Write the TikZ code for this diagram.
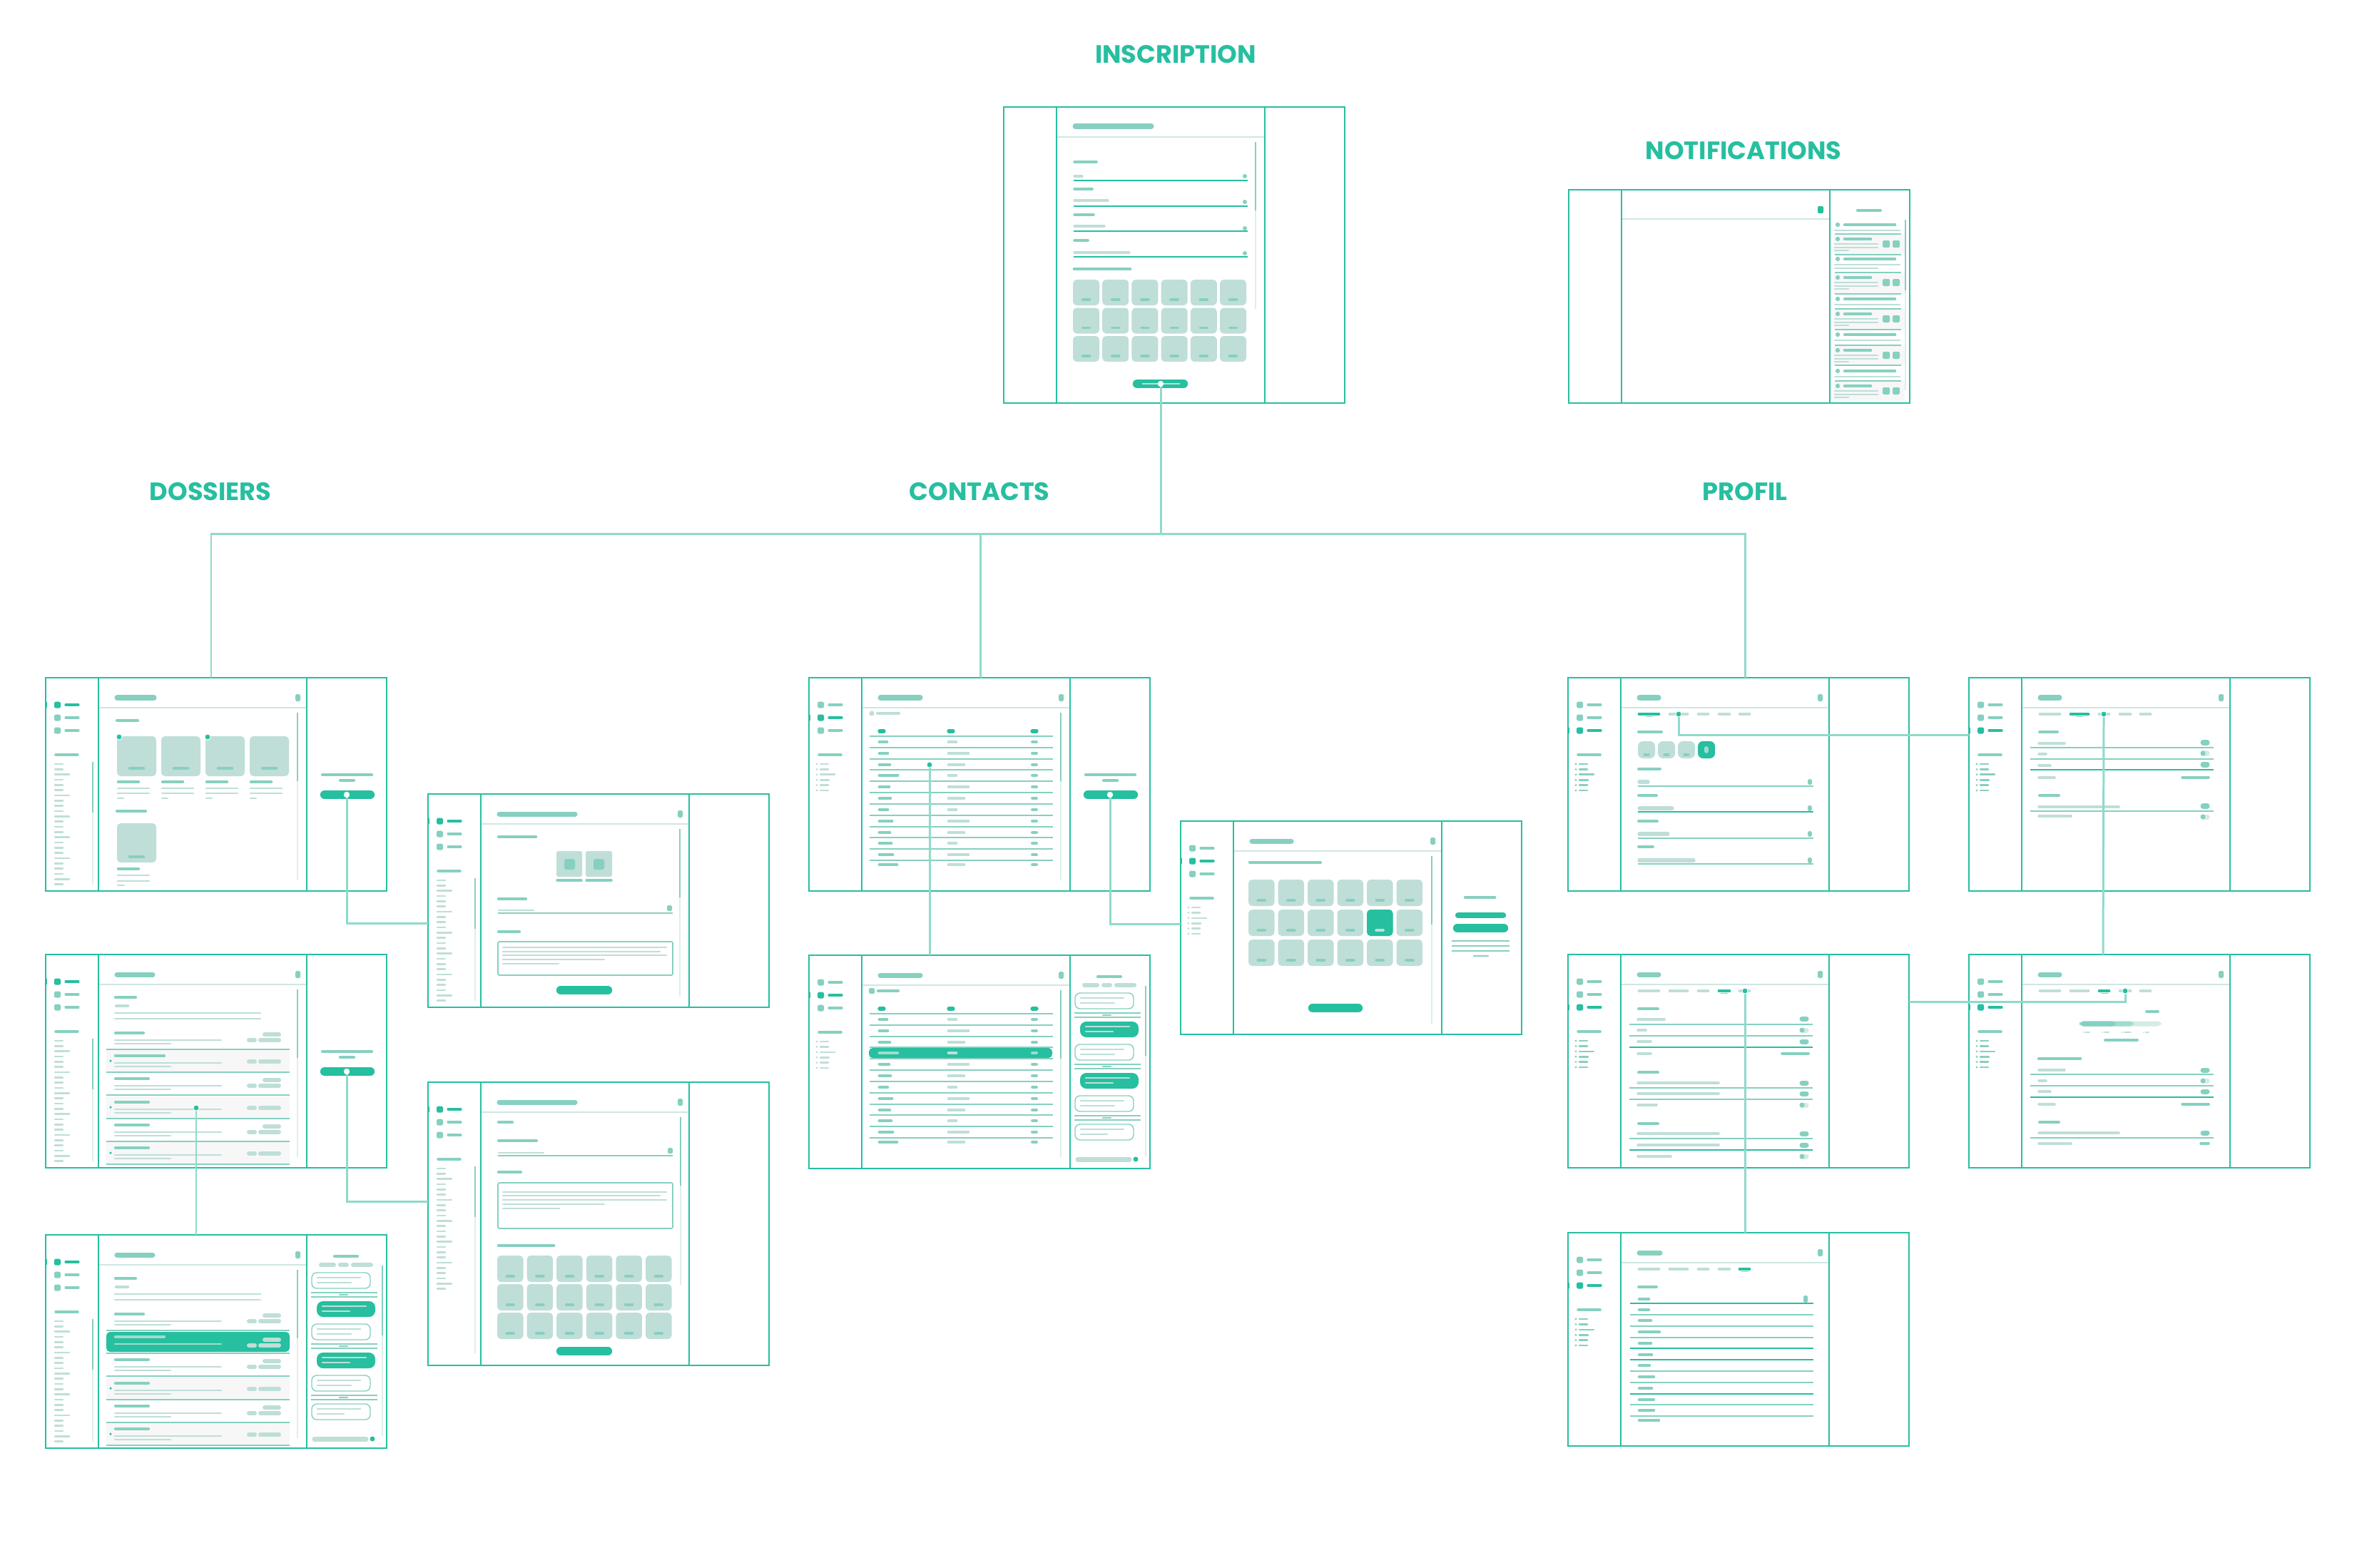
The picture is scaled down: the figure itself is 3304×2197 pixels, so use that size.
\documentclass[tikz,border=0pt]{standalone}
\usepackage{fontspec}
\newfontfamily\headfont{Poppins}
\definecolor{cStrong}{HTML}{26BFA0}
\definecolor{cMid}{HTML}{86D0C0}
\definecolor{cGray}{HTML}{BFDED8}
\definecolor{cTrack}{HTML}{DDEFEB}
\definecolor{cRow}{HTML}{F7F7F7}
\definecolor{cHead}{HTML}{CFE7E2}
\definecolor{cConn}{HTML}{8EDBCA}
\definecolor{cSoft}{HTML}{9FDCCE}
\definecolor{cPale}{HTML}{D5EBE6}
\tikzset{
 wfrm/.style={draw=cStrong, line width=0.8pt},
 whbar/.style={draw=cMid, line width=2pt, line cap=round},
 wmbar/.style={draw=cMid, line width=1pt, line cap=round},
 wgbar/.style={draw=cGray, line width=0.6pt, line cap=round},
 wtile/.style={fill=cGray, rounded corners=1.5pt},
 wconn/.style={draw=cConn, line width=0.85pt},
 whdr/.style={draw=cHead, line width=0.7pt},
 wsep/.style={draw=cMid, line width=0.5pt},
 wdot/.style={fill=cStrong, draw=white, line width=0.25pt},
 whead/.style={text=cStrong, font=\headfont\bfseries\fontsize{10}{12}\selectfont, inner sep=0pt},
}
% ---------- components ----------
\newcommand{\wfBox}[1]{%
  \fill[white] (0,0) rectangle (478,#1);
  \draw[wfrm] (0,0) rectangle (478,#1);
  \draw[wfrm] (74,0) -- (74,#1);
  \draw[wfrm] (366,0) -- (366,#1);}
\newcommand{\wfHead}[1]{%
  \draw[whdr] (75,42) -- (365,42);
  \draw[whbar] (100,28) -- (#1,28);
  \fill[cMid, rounded corners=0.5pt] (350,23) rectangle (357,33);}
\newcommand{\wfSide}[4]{%
  \foreach \yy/\cc in {38/#1,56/#2,74/#3}{%
    \fill[\cc, rounded corners=0.5pt] (12,\yy-4.5) rectangle (21,\yy+4.5);
    \draw[\cc, line width=0.9pt, line cap=round] (28,\yy) -- (46,\yy);}
  \draw[cStrong, line width=0.7pt] (1,#4-4) -- (1,#4+4);
  \draw[wmbar] (14,108) -- (45,108);}
\newcommand{\wfSideLong}[1]{%
  \foreach \i in {0,...,23}{%
    \pgfmathsetmacro{\ww}{mod(\i,4)==2 ? 33 : 24}%
    \draw[wgbar, line width=0.75pt] (13,121+7.33*\i) -- (\ww,121+7.33*\i);}
  \draw[cTrack, line width=0.6pt] (66,118) -- (66,#1);
  \draw[cMid, line width=0.6pt] (66,118) -- (66,189);}
\newcommand{\wfSideShort}[1]{%
  \foreach \i/\ww in {0/27,1/27,2/36,3/28,4/27,5/27}{%
    \fill[#1] (11,121+7.4*\i) circle[radius=0.45pt];
    \draw[#1, line width=0.75pt, line cap=round] (16,121+7.4*\i) -- (\ww,121+7.4*\i);}}
\newcommand{\wfScroll}[3]{%
  \draw[cTrack, line width=0.6pt] (#1,49) -- (#1,#2);
  \draw[cMid, line width=0.6pt] (#1,49) -- (#1,#3);}
\newcommand{\wfBtn}[3]{%
  \draw[cStrong, line width=3.5pt, line cap=round] (#1,#3) -- (#2,#3);}
\newcommand{\wfBtnPanel}[1]{%
  \draw[wmbar, line width=1.2pt] (388,136) -- (457,136);
  \draw[wmbar, line width=1.2pt] (413,144) -- (432,144);
  \wfBtn{391}{455}{164}
  \coordinate (#1) at (422,164);}
\newcommand{\wfOCard}[3]{%
  \draw[cMid, line width=0.4pt, rounded corners=2pt] (373,#1) rectangle (455,#2);
  \draw[wgbar, line width=0.8pt] (381,#1+7) -- (441,#1+7);
  \draw[wgbar, line width=0.8pt] (381,#1+14) -- (#3,#1+14);}
\newcommand{\wfFCard}[1]{%
  \fill[cStrong, rounded corners=2.5pt] (380,#1) rectangle (462,#1+22);
  \draw[cGray, line width=0.8pt, line cap=round] (388,#1+7) -- (449,#1+7);
  \draw[cGray, line width=0.8pt, line cap=round] (388,#1+14) -- (426,#1+14);}
\newcommand{\wfDiv}[1]{%
  \draw[wsep, line width=0.4pt] (372,#1) -- (465,#1);
  \draw[wsep, line width=0.4pt] (372,#1+6) -- (465,#1+6);
  \draw[wmbar, line width=0.7pt] (412,#1+3) -- (423,#1+3);}
\newcommand{\wfCards}{%
  \draw[wmbar, line width=1.2pt] (405,30) -- (437,30);
  \draw[cGray, line width=1.7pt, line cap=round] (386,42) -- (404,42);
  \draw[cGray, line width=1.7pt, line cap=round] (413,42) -- (422,42);
  \draw[cGray, line width=1.7pt, line cap=round] (431,42) -- (456,42);
  \wfOCard{53}{75}{428}
  \wfDiv{81}
  \wfFCard{93}
  \wfOCard{125}{147}{428}
  \wfDiv{153}
  \wfFCard{165}
  \wfOCard{197}{219}{428}
  \wfDiv{225}
  \wfOCard{237}{259}{418}
  \draw[cGray, line width=2pt, line cap=round] (377,286) -- (449,286);
  \fill[cStrong] (458,286) circle[radius=1pt];
  \draw[cTrack, line width=0.5pt] (472,43) -- (472,282);
  \draw[cMid, line width=0.5pt] (472,43) -- (472,141);}
\newcommand{\wfChips}[1]{%
  \draw[cGray, line width=1.7pt, line cap=round] (285,#1) -- (293,#1);
  \draw[cGray, line width=1.7pt, line cap=round] (301,#1) -- (327,#1);}
\newcommand{\wfRowW}[2]{%
  \draw[wmbar, line width=1.2pt] (98,#1+9) -- (#2,#1+9);
  \draw[wgbar] (97,#1+19) -- (246,#1+19);
  \draw[wgbar] (97,#1+24) -- (175,#1+24);
  \draw[cGray, line width=1.7pt, line cap=round] (307,#1+11) -- (327,#1+11);
  \wfChips{#1+19}
  \draw[wsep] (85,#1+32) -- (342,#1+32);}
\newcommand{\wfRowG}[2]{%
  \fill[cRow] (85,#1+0.8) rectangle (342,#1+31.2);
  \draw[wmbar, line width=1.2pt] (98,#1+9) -- (#2,#1+9);
  \fill[cStrong] (91,#1+16) circle[radius=0.5pt];
  \draw[wgbar] (97,#1+19) -- (246,#1+19);
  \draw[wgbar] (97,#1+24) -- (175,#1+24);
  \wfChips{#1+17}
  \draw[wsep] (85,#1+32) -- (342,#1+32);}
\newcommand{\wfRowH}[2]{%
  \fill[cStrong, rounded corners=1.5pt] (85,#1+2) rectangle (342,#1+30);
  \draw[cSoft, line width=1.2pt, line cap=round] (98,#1+9) -- (#2,#1+9);
  \draw[cSoft, line width=0.6pt, line cap=round] (97,#1+19) -- (246,#1+19);
  \draw[cGray, line width=1.7pt, line cap=round] (307,#1+13) -- (327,#1+13);
  \wfChips{#1+21}
  \draw[wsep] (85,#1+32) -- (342,#1+32);}
\newcommand{\wfTable}[1]{%
  \foreach \xx in {99,196,313}{\draw[cStrong, line width=1.5pt, line cap=round] (\xx,75) -- (\xx+6,75);}
  \draw[wsep] (85,82) -- (342,82);
  \foreach \tn/\yy/\wa/\wb in {1/90/14/14,2/106/15/31,3/122/18/25,4/137/29/14,5/153/17/31,6/169/19/25,7/185/15/14,8/201/21/31,9/217/18/25,10/232/20/14,11/248/22/31,12/262/28/25}{%
    \ifnum\tn=#1
      \fill[cStrong, rounded corners=1.5pt] (84,\yy-7) rectangle (341,\yy+7);
      \draw[cSoft, line width=1.4pt, line cap=round] (99,\yy) -- (95+\wa,\yy);
      \draw[cGray, line width=1.4pt, line cap=round] (196,\yy) -- (192+\wb,\yy);
      \draw[cSoft, line width=1.1pt, line cap=round] (313,\yy) -- (319,\yy);
    \else
      \draw[cMid, line width=1.4pt, line cap=round] (99,\yy) -- (95+\wa,\yy);
      \draw[cGray, line width=1.4pt, line cap=round] (196,\yy) -- (192+\wb,\yy);
      \draw[cMid, line width=1.1pt, line cap=round] (313,\yy) -- (319,\yy);
    \fi}
  \foreach \yy in {98,114,129,145,161,177,193,209,224,240,256}{\draw[wsep] (85,\yy) -- (342,\yy);}}
\newcommand{\wfGrid}[6]{%
  \foreach \cc in {0,...,5}{\foreach \rr in {0,1,2}{%
    \fill[wtile] ({#1+#5*\cc},{#2+#6*\rr}) rectangle ({#1+#5*\cc+#3},{#2+#6*\rr+#4});
    \draw[wmbar] ({#1+#5*\cc+#3/2-5},{#2+#6*\rr+#4-8}) -- ({#1+#5*\cc+#3/2+5},{#2+#6*\rr+#4-8});}}}
\newcommand{\wfTabs}[1]{%
  \foreach \ta/\tb/\tn in {98/129/1,141/169/2,181/198/3,210/228/4,239/256/5}{%
    \ifnum\tn=#1
      \draw[cStrong, line width=1.1pt, line cap=round] (\ta+1.5,51) -- (\tb-1.5,51);
      \draw[cMid, line width=0.5pt] ({(\ta+\tb)/2-5},54.5) -- ({(\ta+\tb)/2+5},54.5);
    \else
      \draw[cGray, line width=1.1pt, line cap=round] (\ta+1.5,51) -- (\tb-1.5,51);
    \fi}}
\newcommand{\wfTog}[2]{%
  \ifnum#2=1
    \draw[cMid, line width=2pt, line cap=round] (328,#1) -- (334,#1);
  \else
    \draw[cPale, line width=2pt, line cap=round] (328,#1) -- (334,#1);
    \fill[cMid] (328,#1) circle[radius=1pt];
  \fi}
\newcommand{\wfPH}[2]{\draw[cGray, line width=1pt, line cap=round] (98,#1) -- (#2,#1);}
\newcommand{\wfUL}[2]{\draw[#2, line width=0.7pt] (86,#1) -- (343,#1);}
\newcommand{\wfLab}[2]{\draw[wmbar, line width=1.1pt] (99,#1) -- (#2,#1);}

\begin{document}
\begin{tikzpicture}[x=0.01cm,y=-0.01cm]
\fill[white] (0,0) rectangle (3304,2197);
\useasboundingbox (0,0) rectangle (3304,2197);

% ---------- headings ----------
\node[whead] (hIns) at (1648,76) {INSCRIPTION};
\node[whead] (hNot) at (2444,211) {NOTIFICATIONS};
\node[whead] (hDos) at (295,689) {DOSSIERS};
\node[whead] (hCon) at (1373,689) {CONTACTS};
\node[whead] (hPro) at (2446,689) {PROFIL};

% ---------- INSCRIPTION ----------
\begin{scope}[shift={(1407,150)}]
  \wfBox{415}
  \draw[whdr] (75,42) -- (365,42);
  \draw[whbar] (100,27) -- (207,27);
  \wfScroll{353}{283}{145}
  \foreach \la/\ly/\pe/\py/\dy/\uy in {130/77/110/97/97/103, 124/115/146/131/133/139, 126/151/141/167/170/174, 118/187/176/204/205/210}{%
    \draw[wmbar] (99,\ly) -- (\la,\ly);
    \draw[wgbar, line width=0.9pt] (99,\py) -- (\pe,\py);
    \fill[cMid] (338,\dy) circle[radius=0.85pt];
    \draw[cStrong, line width=0.6pt] (98,\uy) -- (342,\uy);}
  \draw[wmbar, line width=1.4pt] (99,227) -- (177,227);
  \wfGrid{97}{242}{37}{36}{41.2}{39.5}
  \wfBtn{187}{252}{388}
  \draw[cGray, line width=0.6pt] (194,388) -- (247,388);
  \coordinate (insKnob) at (220,388);
\end{scope}

% ---------- NOTIFICATIONS ----------
\begin{scope}[shift={(2199,266)}]
  \wfBox{299}
  \draw[whdr] (75,41) -- (365,41);
  \fill[cStrong, rounded corners=0.6pt] (349,23) rectangle (357,33);
  \draw[wmbar, line width=1.2pt] (405,29) -- (437,29);
  \foreach \yd/\two in {49/0,97/1,153/0,203/0,254/0}{%
    \fill[cMid] (377,\yd) circle[radius=0.9pt];
    \draw[wmbar, line width=1.3pt] (387,\yd) -- (457,\yd);
    \draw[wgbar, line width=0.7pt] (373,\yd+8) -- (464,\yd+8);
    \ifnum\two=1 \draw[wgbar, line width=0.7pt] (373,\yd+13) -- (433,\yd+13);\fi}
  \foreach \yt/\yb in {63/91,117/146,168/196,219/246,269/297}{%
    \fill[cRow] (371,\yt) rectangle (471,\yb);
    \fill[cMid] (377,\yt+6) circle[radius=0.9pt];
    \draw[wmbar, line width=1.3pt] (387,\yt+6) -- (423,\yt+6);
    \draw[wgbar, line width=0.7pt] (373,\yt+13) -- (433,\yt+13);
    \draw[wgbar, line width=0.7pt] (373,\yt+18) -- (433,\yt+18);
    \draw[wgbar, line width=0.7pt] (373,\yt+22) -- (392,\yt+22);
    \fill[cMid, rounded corners=0.6pt] (440,\yt+8) rectangle (450,\yt+18);
    \fill[cMid, rounded corners=0.6pt] (454,\yt+8) rectangle (464,\yt+18);}
  \foreach \ys in {62,91,116,146,167,196,218,246,268}{\draw[wsep] (373,\ys) -- (466,\ys);}
  \draw[cTrack, line width=0.5pt] (472,42) -- (472,281);
  \draw[cMid, line width=0.5pt] (472,42) -- (472,141);
\end{scope}

% ---------- DOSSIERS A ----------
\begin{scope}[shift={(64,950)}]
  \wfBox{299}
  \wfSide{cStrong}{cMid}{cMid}{38}
  \wfSideLong{290}
  \wfHead{152}
  \draw[wmbar, line width=1.2pt] (100,60) -- (129,60);
  \foreach \xc in {100,162,224,286}{%
    \fill[wtile] (\xc,82) rectangle (\xc+55,138);
    \draw[wmbar, line width=1.3pt] (\xc+18,127) -- (\xc+37,127);
    \draw[wmbar, line width=1.3pt] (\xc+2,146) -- (\xc+30,146);
    \draw[wgbar, line width=0.8pt] (\xc+1,155) -- (\xc+45,155);
    \draw[wgbar, line width=0.8pt] (\xc+1,162) -- (\xc+45,162);
    \draw[wgbar, line width=0.8pt] (\xc+1,169) -- (\xc+9,169);}
  \draw[wmbar, line width=1.2pt] (100,187) -- (140,187);
  \fill[wtile] (100,204) rectangle (155,259);
  \draw[wmbar, line width=1.3pt] (118,251) -- (137,251);
  \draw[wmbar, line width=1.3pt] (102,268) -- (130,268);
  \draw[wgbar, line width=0.8pt] (101,277) -- (145,277);
  \draw[wgbar, line width=0.8pt] (101,285) -- (145,285);
  \draw[wgbar, line width=0.8pt] (101,291) -- (110,291);
  \coordinate (dAc1) at (103,83);
  \coordinate (dAc3) at (227,83);
  \wfScroll{353}{284}{145}
  \wfBtnPanel{dAknob}
  \coordinate (dAtop) at (232,0);
\end{scope}

% ---------- DOSSIERS B ----------
\begin{scope}[shift={(64,1338)}]
  \wfBox{299}
  \wfSide{cStrong}{cMid}{cMid}{38}
  \wfSideLong{290}
  \wfHead{150}
  \draw[wmbar, line width=1.2pt] (98,60) -- (126,60);
  \draw[cGray, line width=1.3pt, line cap=round] (99,72) -- (115,72);
  \draw[wgbar] (97,82) -- (301,82);
  \draw[wgbar] (97,90) -- (301,90);
  \wfRowW{101}{137}
  \wfRowG{133}{166}
  \wfRowW{165}{144}
  \wfRowG{198}{144}
  \wfRowW{230}{144}
  \wfRowG{262}{144}
  \coordinate (dBdot) at (211,215);
  \wfScroll{353}{284}{145}
  \wfBtnPanel{dBknob}
\end{scope}

% ---------- DOSSIERS C ----------
\begin{scope}[shift={(64,1731)}]
  \wfBox{299}
  \wfSide{cStrong}{cMid}{cMid}{38}
  \wfSideLong{290}
  \wfHead{150}
  \draw[wmbar, line width=1.2pt] (98,61) -- (126,61);
  \draw[cGray, line width=1.3pt, line cap=round] (99,73) -- (115,73);
  \draw[wgbar] (97,83) -- (301,83);
  \draw[wgbar] (97,91) -- (301,91);
  \wfRowW{102}{137}
  \wfRowH{134}{166}
  \wfRowW{166}{144}
  \wfRowG{199}{144}
  \wfRowW{231}{144}
  \wfRowG{263}{144}
  \wfScroll{353}{285}{145}
  \wfCards
  \coordinate (dCtop) at (211,0);
\end{scope}

% ---------- DOSSIER DETAIL ----------
\begin{scope}[shift={(600,1113)}]
  \wfBox{299}
  \wfSide{cStrong}{cMid}{cMid}{38}
  \wfSideLong{290}
  \wfHead{206}
  \draw[wmbar, line width=1.2pt] (99,60) -- (151,60);
  \fill[cGray, rounded corners=0.8pt] (180,80) rectangle (216,116);
  \fill[cGray, rounded corners=0.8pt] (221,80) rectangle (258,116);
  \fill[cMid, rounded corners=0.8pt] (191,91) rectangle (206,106);
  \fill[cMid, rounded corners=0.8pt] (232,91) rectangle (247,106);
  \draw[wmbar] (181,121) -- (215,121);
  \draw[wmbar] (222,121) -- (257,121);
  \draw[wmbar, line width=1.2pt] (99,147) -- (137,147);
  \draw[wgbar, line width=0.8pt] (99,163) -- (148,163);
  \fill[cMid, rounded corners=0.5pt] (335,156) rectangle (342,164);
  \draw[cMid, line width=0.6pt] (98,167) -- (343,167);
  \draw[wmbar, line width=1.2pt] (99,193) -- (128,193);
  \draw[cMid, line width=0.5pt, rounded corners=0.6pt] (98,207) rectangle (343,254);
  \foreach \yl/\xe in {215/334,221/325,226/334,232/247,238/183}{\draw[wgbar] (105,\yl) -- (\xe,\yl);}
  \wfBtn{186}{252}{275}
  \wfScroll{353}{284}{145}
  \coordinate (detL) at (0,181);
\end{scope}

% ---------- DOSSIER FORM (tall) ----------
\begin{scope}[shift={(600,1517)}]
  \wfBox{397}
  \wfSide{cStrong}{cMid}{cMid}{38}
  \wfSideLong{380}
  \wfHead{206}
  \draw[wmbar, line width=1.2pt] (99,56) -- (118,56);
  \draw[wmbar, line width=1.2pt] (99,82) -- (152,82);
  \draw[wgbar, line width=0.8pt] (99,99) -- (162,99);
  \fill[cMid, rounded corners=0.5pt] (336,92) rectangle (343,100);
  \draw[cMid, line width=0.6pt] (98,103) -- (343,103);
  \draw[wmbar, line width=1.2pt] (99,126) -- (130,126);
  \draw[cMid, line width=0.5pt, rounded corners=0.6pt] (98,141) rectangle (343,205);
  \foreach \yl/\xe in {154/334,159/325,165/334,171/247,177/184}{\draw[wgbar] (105,\yl) -- (\xe,\yl);}
  \draw[wmbar, line width=1.4pt] (99,229) -- (176,229);
  \wfGrid{97}{243}{36.5}{37}{41.6}{40}
  \wfBtn{186}{252}{377}
  \wfScroll{354}{284}{145}
  \coordinate (formL) at (0,167);
\end{scope}

% ---------- CONTACTS A ----------
\begin{scope}[shift={(1134,950)}]
  \wfBox{299}
  \wfSide{cMid}{cStrong}{cMid}{56}
  \wfSideShort{cGray}
  \wfHead{156}
  \fill[cGray] (88,50) circle[radius=1pt];
  \draw[wgbar, line width=1.2pt] (96,50) -- (126,50);
  \wfTable{0}
  \coordinate (cAdot) at (169,122);
  \wfScroll{353}{283}{145}
  \wfBtnPanel{cAknob}
  \coordinate (cAtop) at (240,0);
\end{scope}

% ---------- CONTACTS B ----------
\begin{scope}[shift={(1134,1339)}]
  \wfBox{299}
  \wfSide{cMid}{cStrong}{cMid}{56}
  \wfSideShort{cGray}
  \wfHead{156}
  \fill[cMid, rounded corners=0.5pt] (84,46) rectangle (92,54);
  \draw[wmbar, line width=1.2pt] (97,50) -- (125,50);
  \wfTable{4}
  \wfScroll{353}{283}{145}
  \wfCards
  \coordinate (cBtop) at (169,0);
\end{scope}

% ---------- CONTACTS CALENDAR ----------
\begin{scope}[shift={(1655,1151)}]
  \wfBox{299}
  \wfSide{cMid}{cStrong}{cMid}{56}
  \wfSideShort{cGray}
  \wfHead{155}
  \draw[wmbar, line width=1.2pt] (97,58) -- (196,58);
  \wfGrid{95}{82}{36.5}{37}{41.5}{42}
  \fill[cStrong, rounded corners=1.5pt] (261,124) rectangle (297.5,161);
  \draw[cGray, line width=1pt, line cap=round] (274,153) -- (284,153);
  \wfBtn{185}{249}{262}
  \wfScroll{352}{284}{145}
  \draw[wmbar, line width=1.3pt] (399,107) -- (440,107);
  \draw[cStrong, line width=2.4pt, line cap=round] (389,132) -- (452,132);
  \draw[cStrong, line width=3.5pt, line cap=round] (388,150) -- (453,150);
  \foreach \yl in {168,175,182}{\draw[cMid, line width=0.7pt] (380,\yl) -- (461,\yl);}
  \draw[wmbar, line width=0.8pt] (411,189) -- (431,189);
  \coordinate (calL) at (0,144);
\end{scope}

% ---------- PROFIL A ----------
\begin{scope}[shift={(2198,950)}]
  \wfBox{299}
  \wfSide{cMid}{cMid}{cStrong}{74}
  \wfSideShort{cMid}
  \wfHead{127}
  \wfTabs{1}
  \coordinate (pAdot) at (155,51);
  \draw[wmbar, line width=1.1pt] (99,76) -- (131,76);
  \foreach \xa in {98,126,154}{%
    \fill[cGray, rounded corners=2pt] (\xa,89) rectangle (\xa+24,113);
    \draw[wmbar, line width=0.9pt] (\xa+9,108) -- (\xa+15,108);}
  \fill[cStrong, rounded corners=2pt] (182,89) rectangle (206,113);
  \draw[cSoft, line width=1.6pt, line cap=round] (194,99) -- (194,103);
  \foreach \la/\ly/\pe/\py/\uy/\uc in {129/128/112/146/152/cMid, 124/165/146/183/188/cStrong, 125/201/140/219/225/cMid, 119/237/176/256/261/cMid}{%
    \wfLab{\ly}{\la}
    \draw[cGray, line width=1.5pt, line cap=round] (100,\py) -- (\pe,\py);
    \draw[cMid, line width=1.5pt, line cap=round] (339,\py-1.5) -- (339,\py+1.5);
    \draw[\uc, line width=0.8pt] (98,\uy) -- (344,\uy);}
  \coordinate (pAtop) at (248,0);
\end{scope}

% ---------- PROFIL B ----------
\begin{scope}[shift={(2760,950)}]
  \wfBox{299}
  \wfSide{cMid}{cMid}{cStrong}{74}
  \wfSideShort{cMid}
  \wfHead{127}
  \wfTabs{2}
  \coordinate (pBdot) at (189,51);
  \wfLab{76}{124}
  \wfPH{92}{134} \wfTog{91}{1} \wfUL{98}{cMid}
  \wfPH{107}{108} \wfTog{106}{0} \wfUL{114}{cMid}
  \wfPH{123}{114} \wfTog{122}{1} \wfUL{129}{cStrong}
  \wfPH{140}{120} \draw[wmbar] (299,140) -- (336,140);
  \wfLab{165}{126}
  \wfPH{181}{210} \wfTog{180}{1} \wfUL{187}{cMid}
  \wfPH{194}{143} \wfTog{195}{0}
  \coordinate (pBL) at (0,80);
\end{scope}

% ---------- PROFIL C ----------
\begin{scope}[shift={(2198,1338)}]
  \wfBox{299}
  \wfSide{cMid}{cMid}{cStrong}{74}
  \wfSideShort{cMid}
  \wfHead{127}
  \wfTabs{4}
  \coordinate (pCdot) at (248,51);
  \wfLab{76}{126}
  \wfPH{91}{135} \wfTog{90}{1} \wfUL{98}{cMid}
  \wfPH{106}{109} \wfTog{106}{0} \wfUL{114}{cMid}
  \wfPH{122}{116} \wfTog{122}{1} \wfUL{130}{cStrong}
  \wfPH{139}{116} \draw[wmbar] (300,139) -- (337,139);
  \wfLab{165}{126}
  \wfPH{180}{211} \wfTog{180}{1} \wfUL{187}{cMid}
  \wfPH{195}{211} \wfTog{195}{1} \wfUL{203}{cMid}
  \wfPH{211}{124} \wfTog{211}{0}
  \wfLab{237}{126}
  \wfPH{251}{211} \wfTog{251}{1} \wfUL{258}{cMid}
  \wfPH{267}{211} \wfTog{267}{1} \wfUL{274}{cStrong}
  \wfPH{283}{144} \wfTog{283}{0}
  \coordinate (pCR) at (478,66);
\end{scope}

% ---------- PROFIL D ----------
\begin{scope}[shift={(2760,1338)}]
  \wfBox{299}
  \wfSide{cMid}{cMid}{cStrong}{74}
  \wfSideShort{cMid}
  \wfHead{127}
  \wfTabs{3}
  \coordinate (pDdot) at (219,51);
  \draw[wmbar, line width=1.1pt] (249,80) -- (265,80);
  \fill[cPale, rounded corners=1.8pt] (155,93.5) rectangle (270,100.5);
  \fill[cSoft, rounded corners=1.8pt] (155,93.5) rectangle (231,100.5);
  \fill[cMid, rounded corners=1.8pt] (155,93.5) rectangle (206,100.5);
  \foreach \xa/\xb in {163/169,190/196,218/227,248/252}{%
    \fill[cGray] (\xa-3,109) circle[radius=0.3pt];
    \draw[wgbar, line width=0.5pt] (\xa,109) -- (\xb,109);}
  \draw[wmbar, line width=1.1pt] (191,120) -- (236,120);
  \draw[wmbar, line width=1.3pt] (98,146) -- (156,146);
  \wfPH{162}{134} \wfTog{162}{1} \wfUL{168}{cMid}
  \wfPH{177}{108} \wfTog{177}{0} \wfUL{184}{cMid}
  \wfPH{192}{114} \wfTog{192}{1} \wfUL{200}{cStrong}
  \wfPH{210}{120} \draw[wmbar] (299,210) -- (336,210);
  \wfLab{235}{126}
  \wfPH{250}{210} \wfTog{250}{1} \wfUL{257}{cMid}
  \wfPH{265}{143} \draw[wmbar] (325,265) -- (336,265);
  \coordinate (pDtop) at (188,0);
\end{scope}

% ---------- PROFIL E ----------
\begin{scope}[shift={(2198,1728)}]
  \wfBox{299}
  \wfSide{cMid}{cMid}{cStrong}{74}
  \wfSideShort{cMid}
  \wfHead{129}
  \wfTabs{5}
  \wfLab{76}{124}
  \fill[cMid, rounded corners=0.5pt] (330,88) rectangle (336,98);
  \foreach \yy/\xe/\ly/\lc in {93/113/99/cStrong,108/113/115/cMid,123/116/131/cMid,139/128/147/cMid,155/116/162/cStrong,171/117/178/cStrong,186/114/194/cMid,202/120/210/cMid,218/117/226/cStrong,234/120/241/cMid,249/120/257/cMid}{%
    \draw[cMid, line width=1.3pt, line cap=round] (100,\yy) -- (\xe,\yy);
    \draw[\lc, line width=0.6pt] (87,\ly) -- (344,\ly);}
  \draw[cMid, line width=1.3pt, line cap=round] (100,263) -- (127,263);
  \coordinate (pEtop) at (248,0);
\end{scope}

% ---------- connectors ----------
\coordinate (bus) at (1627,748);
\draw[wconn] (insKnob) -- (insKnob |- bus);
\draw[wconn] (dAtop) |- (cAtop |- bus) -| (pAtop);
\draw[wconn] (cAtop) -- (cAtop |- bus);
\draw[wconn] (dAknob) |- (detL);
\draw[wconn] (dBknob) |- (formL);
\draw[wconn] (dBdot) -- (dCtop);
\draw[wconn] (cAdot) -- (cBtop);
\draw[wconn] (cAknob) |- (calL);
\draw[wconn] (pAdot) |- (pBL);
\draw[wconn] (pBdot) -- (pDtop);
\draw[wconn] (pCdot) -- (pEtop);
\draw[wconn] (pDdot) |- (pCR);

% ---------- dots and knobs ----------
\foreach \kn in {insKnob,dAknob,dBknob,cAknob}{\fill[white] (\kn) circle[radius=1.2pt];}
\foreach \dn in {dAc1,dAc3,dBdot,cAdot,pAdot,pBdot,pCdot,pDdot}{\filldraw[wdot] (\dn) circle[radius=1.15pt];}
\end{tikzpicture}
\end{document}
